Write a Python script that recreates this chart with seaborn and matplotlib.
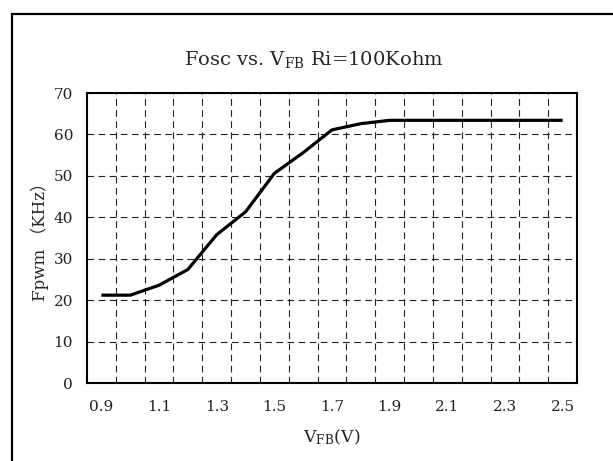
import numpy as np
import pandas as pd
import matplotlib
matplotlib.use("Agg")
import matplotlib.pyplot as plt
import seaborn as sns
from matplotlib.patches import Rectangle
from matplotlib.ticker import FixedLocator

# ---- data ----
vfb = [0.9, 1.0, 1.1, 1.2, 1.3, 1.4, 1.5, 1.6, 1.7, 1.8, 1.9,
       2.0, 2.1, 2.2, 2.3, 2.4, 2.5]
fpwm = [21.2, 21.2, 23.6, 27.4, 35.8, 41.3, 50.6, 55.6, 61.1, 62.6, 63.4,
        63.4, 63.4, 63.4, 63.4, 63.4, 63.4]
x_tick_values = [0.9, 1.1, 1.3, 1.5, 1.7, 1.9, 2.1, 2.3, 2.5]
x_tick_labels = ["0.9", "1.1", "1.3", "1.5", "1.7", "1.9", "2.1", "2.3", "2.5"]
y_ticks = [0, 10, 20, 30, 40, 50, 60, 70]

df = pd.DataFrame({"VFB": vfb, "Fpwm": fpwm})

sns.set_theme(style="white")
plt.rcParams["font.family"] = ["DejaVu Serif", "Noto Sans CJK SC"]
plt.rcParams["mathtext.fontset"] = "custom"
plt.rcParams["mathtext.rm"] = "DejaVu Serif"
plt.rcParams["mathtext.it"] = "DejaVu Serif:italic"

W, H = 613, 461
fig = plt.figure(figsize=(W / 100, H / 100), dpi=100)
fig.patch.set_facecolor("white")

# outer chart border
fig.patches.append(Rectangle((12 / W, -0.05), 1.2, 1 - 14 / H + 0.05,
                             transform=fig.transFigure, fill=False,
                             edgecolor="black", linewidth=1.6))

ax = fig.add_axes([87 / W, (H - 383) / H, 490 / W, 290 / H])
sns.lineplot(data=df, x="VFB", y="Fpwm", ax=ax, color="black", linewidth=2.3)
for ln in ax.lines:
    ln.set_solid_joinstyle("round")
    ln.set_solid_capstyle("butt")

ax.set_xlim(0.85, 2.55)
ax.set_ylim(0, 70)
ax.xaxis.set_major_locator(FixedLocator(x_tick_values))
ax.set_xticklabels(x_tick_labels)
ax.xaxis.set_minor_locator(FixedLocator([0.95 + 0.1 * i for i in range(16)]))
ax.set_yticks(y_ticks)
ax.set_yticklabels([str(v) for v in y_ticks])

ax.tick_params(axis="both", which="both", length=0, labelsize=11, colors="#222222")
ax.tick_params(axis="x", pad=12)
ax.tick_params(axis="y", pad=10)

ax.grid(False)
ax.grid(True, axis="x", which="minor", color="#222222", linewidth=0.8,
        linestyle=(0, (6, 4)))
ax.grid(True, axis="y", which="major", color="#222222", linewidth=0.8,
        linestyle=(0, (6, 4)))

for s in ax.spines.values():
    s.set_color("black")
    s.set_linewidth(1.5)

ax.set_xlabel(r"$\mathregular{V_{FB}}$(V)", fontsize=12.5, labelpad=10)
ax.set_ylabel("Fpwm （KHz）", fontsize=12, labelpad=3)

fig.text(314 / W, 1 - 60 / H, r"Fosc vs. $\mathregular{V_{FB}}$ Ri=100Kohm",
         ha="center", va="center", fontsize=14)

fig.savefig("out.png", dpi=100)
